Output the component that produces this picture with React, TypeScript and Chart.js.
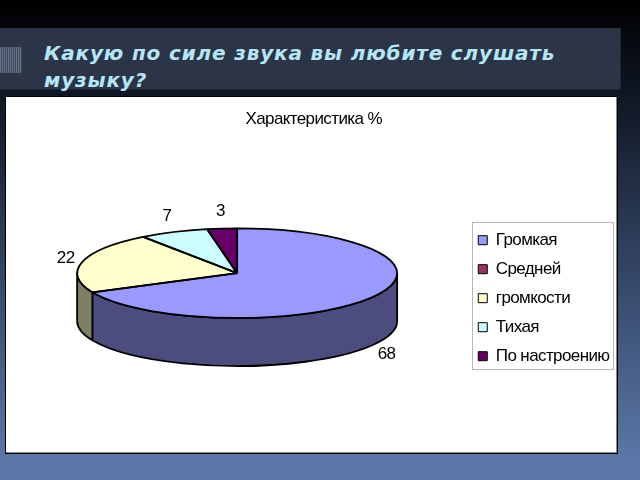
import React, { useEffect, useRef } from "react";
import { Chart, registerables } from "chart.js";

Chart.register(...registerables);

const categories = ["Громкая", "Средней", "громкости", "Тихая", "По настроению"];
const values = [68, null, 22, 7, 3];
const topColors = ["#9999FF", "#993366", "#FFFFCC", "#CCFFFF", "#660066"];
const sideColors = ["#4C4C7F", "#4C1933", "#7F7F66", "#667F7F", "#330033"];
const chartTitle = "Характеристика %";
const slideTitle = "Какую по силе звука вы любите слушать музыку?";

const SQUASH = 0.28;
const DEPTH = 48;
const LIFT = DEPTH / 2 + 1;
const LABEL_GAP = 17;
const FONT = "'Liberation Sans'";
const TRACKING = "-0.6px";
const EDGE = 1.8;

const tilt3d = {
  id: "tilt3d",
  beforeLayout(chart: any) {
    chart.ctx.letterSpacing = TRACKING;
  },
  beforeDraw(chart: any) {
    chart.ctx.letterSpacing = TRACKING;
    const hits = chart.legend.legendHitBoxes;
    const ctx = chart.ctx;
    const left = Math.round(Math.min(...hits.map((h: any) => h.left))) - 6;
    const right = Math.round(Math.max(...hits.map((h: any) => h.left + h.width))) + 3;
    const top = Math.round(hits[0].top) - 10;
    const last = hits[hits.length - 1];
    const bottom = Math.round(last.top + last.height) + 4;
    ctx.save();
    ctx.strokeStyle = "#b8b8b8";
    ctx.lineWidth = 1;
    ctx.strokeRect(left + 0.5, top + 0.5, right - left, bottom - top);
    ctx.restore();
  },
  beforeDatasetsDraw(chart: any) {
    const ctx = chart.ctx;
    const arcs = chart.getDatasetMeta(0).data;
    const { x, y, outerRadius: r } = arcs[0];
    const rY = r * SQUASH;
    const topY = y - LIFT;
    ctx.save();
    ctx.lineWidth = EDGE;
    ctx.strokeStyle = "#000";
    ctx.lineJoin = "round";
    arcs.forEach((arc: any, i: number) => {
      const lo = Math.max(arc.startAngle, 0);
      const hi = Math.min(arc.endAngle, Math.PI);
      if (hi <= lo) return;
      ctx.beginPath();
      ctx.ellipse(x, topY, r, rY, 0, lo, hi);
      ctx.ellipse(x, topY + DEPTH, r, rY, 0, hi, lo, true);
      ctx.closePath();
      ctx.fillStyle = sideColors[i];
      ctx.fill();
      ctx.stroke();
    });
    ctx.restore();
    ctx.save();
    ctx.translate(x, topY);
    ctx.scale(1, SQUASH);
    ctx.translate(-x, -y);
  },
  afterDatasetsDraw(chart: any) {
    const ctx = chart.ctx;
    ctx.restore();
    const arcs = chart.getDatasetMeta(0).data;
    const { x, y, outerRadius: r } = arcs[0];
    const rY = r * SQUASH;
    const topY = y - LIFT;
    ctx.save();
    ctx.lineWidth = EDGE;
    ctx.strokeStyle = "#000";
    ctx.lineJoin = "round";
    arcs.forEach((arc: any, i: number) => {
      if (!values[i]) return;
      ctx.beginPath();
      ctx.moveTo(x, topY);
      ctx.ellipse(x, topY, r, rY, 0, arc.startAngle, arc.endAngle);
      ctx.closePath();
      ctx.stroke();
    });
    ctx.font = `17px ${FONT}`;
    ctx.fillStyle = "#000";
    ctx.textAlign = "center";
    ctx.textBaseline = "middle";
    arcs.forEach((arc: any, i: number) => {
      if (!values[i]) return;
      const mid = (arc.startAngle + arc.endAngle) / 2;
      const c = Math.cos(mid);
      const s = Math.sin(mid);
      const lx = x + (r + LABEL_GAP) * c;
      const ly = topY + (rY + LABEL_GAP) * s + (s > 0 ? DEPTH : 0);
      ctx.fillText(String(values[i]), lx, ly);
    });
    ctx.restore();
  },
};

export default function App() {
  const ref = useRef<HTMLCanvasElement>(null);
  useEffect(() => {
    const chart = new Chart(ref.current!, {
      type: "pie",
      plugins: [tilt3d],
      data: {
        labels: categories,
        datasets: [
          {
            data: values as any,
            backgroundColor: topColors,
            borderWidth: 0,
          },
        ],
      },
      options: {
        animation: false,
        responsive: false,
        radius: 160,
        layout: { padding: { left: 2, right: -2.5, top: 0, bottom: 0 } },
        plugins: {
          tooltip: { enabled: false },
          title: {
            display: true,
            text: chartTitle,
            color: "#000",
            font: { family: FONT, size: 17, weight: "normal" },
            padding: { top: 12, bottom: 14 },
          },
          legend: {
            position: "right",
            fullSize: false,
            labels: {
              color: "#000",
              font: { family: FONT, size: 17 },
              boxWidth: 9,
              boxHeight: 9,
              padding: 12,
              generateLabels: () =>
                categories.map((text, i) => ({
                  text,
                  fillStyle: topColors[i],
                  strokeStyle: "#000",
                  lineWidth: 1,
                  hidden: false,
                  index: i,
                })),
            },
          },
        },
      } as any,
    });
    return () => chart.destroy();
  }, []);

  return (
    <div
      style={{
        position: "fixed",
        left: 0,
        top: 0,
        width: 640,
        height: 480,
        overflow: "hidden",
        background:
          "linear-gradient(180deg,#000000 0px,#0a0f18 60px,#141d2c 120px,#3a4d70 300px,#5b77a8 460px,#5b77a8 480px)",
      }}
    >
      <div
        style={{
          position: "absolute",
          left: 0,
          top: 28,
          width: 621,
          height: 62,
          background: "#2c3547",
          borderRight: "1px solid #1e2635",
          borderBottom: "1px solid #1e2635",
          boxSizing: "border-box",
        }}
      />
      <div
        style={{
          position: "absolute",
          left: 0,
          top: 47,
          width: 22,
          height: 26,
          background:
            "repeating-linear-gradient(90deg,#6a7488 0px,#6a7488 1px,#3d4659 1px,#3d4659 2px)",
        }}
      />
      <div
        style={{
          position: "absolute",
          left: 44,
          top: 40,
          width: 560,
          fontFamily: "'DejaVu Sans'",
          fontWeight: "bold",
          fontStyle: "italic",
          fontSize: 20,
          lineHeight: "27px",
          letterSpacing: "0.84px",
          color: "#B4E6F6",
        }}
      >
        {slideTitle}
      </div>
      <div
        style={{
          position: "absolute",
          left: 5,
          top: 96,
          width: 613,
          height: 358,
          background: "#000",
        }}
      />
      <canvas
        ref={ref}
        width={611}
        height={356}
        style={{ position: "absolute", left: 6, top: 97, background: "#fff", display: "block" }}
      />
      <div style={{ position: "absolute", left: 616, top: 97, width: 1, height: 356, background: "#8a8a8a" }} />
      <div style={{ position: "absolute", left: 6, top: 452, width: 611, height: 1, background: "#8a8a8a" }} />
    </div>
  );
}
